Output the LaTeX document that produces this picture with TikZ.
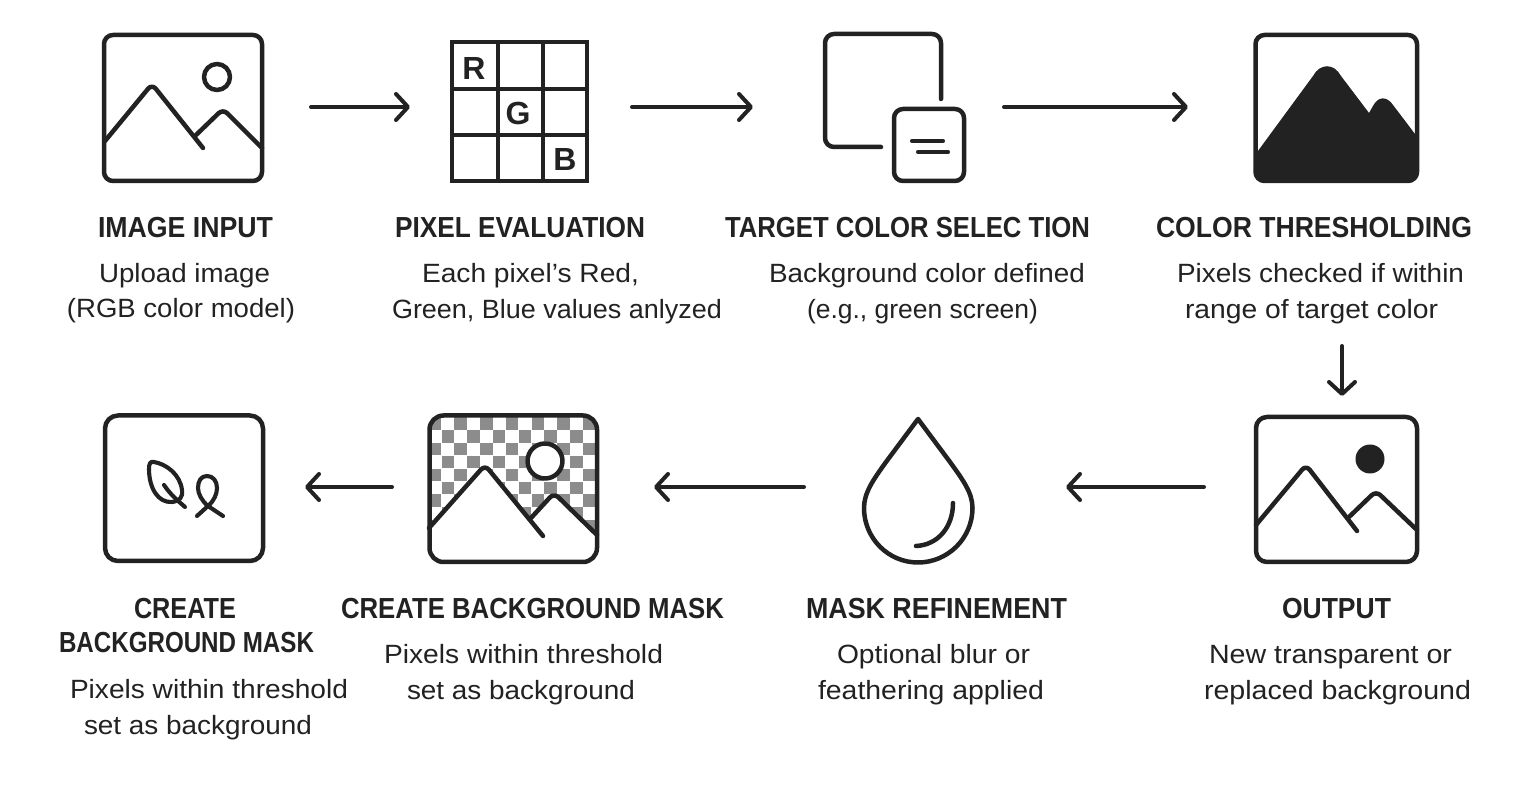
\documentclass[tikz,border=0pt]{standalone}
\usepackage{fontspec}
\usepackage{graphicx}
\usetikzlibrary{arrows.meta,calc}
\setmainfont{Liberation Sans}
\definecolor{ink}{HTML}{222222}
\definecolor{chk}{HTML}{8C8C8C}
\tikzset{
  x=0.5pt,y=-0.5pt,
  line/.style={draw=ink,line width=2.25pt,line cap=round,line join=round},
  thin line/.style={line,line width=2.05pt},
  frame/.style={line,rounded corners=#1},
  frame/.default=5pt,
  iconbox/.style={inner sep=0pt,outer sep=0pt},
  flow/.style={draw=ink,line width=2pt,line cap=round,-{Straight Barb[length=6pt,width=13pt,line width=2pt,round]}},
  headtxt/.style={anchor=base west,inner sep=0pt,outer sep=0pt,text=ink,font=\bfseries\fontsize{14.5pt}{17pt}\selectfont},
  desctxt/.style={anchor=base west,inner sep=0pt,outer sep=0pt,text=ink,font=\fontsize{13.2pt}{16pt}\selectfont},
  rgbtxt/.style={anchor=center,inner sep=0pt,text=ink,font=\bfseries\fontsize{16pt}{18pt}\selectfont},
}
\newcommand\lbl[6]{%
  \pgfmathsetmacro\wdpt{(#4-#3)*0.5}%
  \node[#2] (#1) at (#3,#5) {\resizebox{\wdpt pt}{\height}{#6}};}
\newcommand\boxnode[5]{% name x0 y0 x1 y1
  \pgfmathsetmacro\bw{(#4-#2)*0.5}%
  \pgfmathsetmacro\bh{(#5-#3)*0.5}%
  \node[iconbox,minimum width=\bw pt,minimum height=\bh pt] (#1) at ({(#2+#4)/2},{(#3+#5)/2}) {};}
\begin{document}
\begin{tikzpicture}
\useasboundingbox[fill=white] (0,0) rectangle (1536,785);

% --- anchors of the icons
\boxnode{input}{104}{35}{262}{181}
\boxnode{pixel}{452}{42}{587}{181}
\boxnode{target}{825}{34}{964}{181}
\boxnode{thresh}{1255.5}{35}{1417}{181}
\boxnode{output}{1256}{417}{1417}{562}
\boxnode{drop}{864}{419}{972.5}{562.5}
\boxnode{checker}{429.5}{415.5}{597}{562}
\boxnode{leaf}{105}{415.5}{263}{561}

% --- image input
\draw[frame=4.5pt] (104,35) rectangle (262,181);
\draw[line] (217,77) circle (13);
\draw[line,rounded corners=3pt] (105,141) -- (152,84) -- (203,148);
\draw[line,rounded corners=3pt] (195,136) -- (223,109) -- (262,148);

% --- pixel grid
\draw[line,line cap=butt,line join=miter] (452,42) rectangle (587,181);
\draw[line,line cap=butt] (498,42) -- (498,181) (543,42) -- (543,181)
  (452,89) -- (587,89) (452,135) -- (587,135);
\node[rgbtxt] (r) at (474,68) {R};
\node[rgbtxt] (g) at (518,113) {G};
\node[rgbtxt] (b) at (565,159) {B};

% --- target colour
\draw[frame=4.5pt] (941,99) -- (941,34) -- (825,34) -- (825,147) -- (881,147);
\draw[frame=4.5pt] (894,109) rectangle (964,181);
\draw[thin line] (912,141) -- (943,141) (918,152) -- (948,152);

% --- thresholding
\draw[frame=4.5pt] (1255.5,35) rectangle (1417,181);
\begin{scope}
\clip[rounded corners=4.5pt] (1255.5,35) rectangle (1417,181);
\fill[ink] (1255,155) -- (1313,76)
  .. controls (1320,63) and (1334,63) .. (1341,76)
  -- (1369,113) -- (1373,106)
  .. controls (1378,96) and (1387,96) .. (1393,105)
  -- (1418,138) -- (1418,182) -- (1255,182) -- cycle;
\end{scope}

% --- output
\draw[frame=5.5pt] (1256,417) rectangle (1417,562);
\fill[ink] (1370,459) circle (14.5);
\draw[line,rounded corners=3pt] (1256,525) -- (1306,465) -- (1357,531);
\draw[line,rounded corners=3pt] (1349,517) -- (1376,491) -- (1417,530);

% --- drop
\draw[line] (918,419) -- (886,462)
  .. controls (873,480) and (864,493) .. (864,508)
  .. controls (864,538) and (888,562.5) .. (918,562.5)
  .. controls (948,562.5) and (972.5,538) .. (972.5,508)
  .. controls (972.5,493) and (963,480) .. (950,462) -- cycle;
\draw[line] (953,503) .. controls (953,527) and (938,545) .. (916,546);

% --- checker image
\begin{scope}
\clip[rounded corners=7pt] (429.5,415.5) rectangle (597,562);
\foreach \r in {0,...,11}{
  \foreach \c in {0,...,12}{
    \pgfmathparse{int(mod(\r+\c,2))}
    \ifnum\pgfmathresult=0
      \fill[chk] ({428.7+12.85*\c},{417.3+12.85*\r}) rectangle ++(12.5,12.5);
    \fi
  }
}
\fill[white] (429,528) -- (485,465) -- (531,522) -- (554,493) -- (598,535) -- (598,563) -- (429,563) -- cycle;
\end{scope}
\fill[white] (545,461) circle (19.5);
\draw[line] (545,461) circle (17.5);
\draw[line,rounded corners=3pt] (429,528) -- (485,465) -- (543,536);
\draw[line,rounded corners=3pt] (531,518) -- (554,493) -- (597,535);
\draw[frame=7pt] (429.5,415.5) rectangle (597,562);

% --- leaf
\draw[frame=6.5pt] (105,415.5) rectangle (263,561);
\draw[thin line] (154,462)
  .. controls (166,464) and (180,474) .. (182,490)
  .. controls (183,497) and (180,501) .. (172,502)
  .. controls (158,503) and (149,488) .. (149,469)
  .. controls (149,464) and (150,461) .. (154,462) -- cycle;
\draw[thin line] (164,485) .. controls (170,494) and (177,500) .. (185,507);
\draw[thin line] (197,516) -- (208,506)
  .. controls (214,501) and (217,494) .. (217,488)
  .. controls (217,481) and (213,476) .. (207,476)
  .. controls (201,476) and (198,481) .. (198,488)
  .. controls (198,494) and (202,501) .. (208,506) -- (223,516);

% --- connectors
\draw[flow] ($(input.east)+(49,-1)$) -- ($(pixel.west)+(-42,-4.5)$);
\draw[flow] ($(pixel.east)+(45,-4.5)$) -- ($(target.west)+(-72,-0.5)$);
\draw[flow] ($(target.east)+(40,-0.5)$) -- ($(thresh.west)+(-67.5,-1)$);
\draw[flow] ($(thresh.south)+(5.75,165)$) -- ($(output.north)+(5.5,-21)$);
\draw[flow] ($(output.west)+(-52,-2.5)$) -- ($(drop.east)+(93.5,-3.75)$);
\draw[flow] ($(drop.west)+(-60,-3.75)$) -- ($(checker.east)+(57,-1.75)$);
\draw[flow] ($(checker.west)+(-37.5,-1.75)$) -- ($(leaf.east)+(42,-1.25)$);

% --- texts, row 1
\lbl{h1}{headtxt}{98}{273}{238}{IMAGE INPUT}
\lbl{d1a}{desctxt}{99}{270}{283}{Upload image}
\lbl{d1b}{desctxt}{67}{295}{318}{(RGB color model)}
\lbl{h2}{headtxt}{395}{645}{238}{PIXEL EVALUATION}
\lbl{d2a}{desctxt}{422}{639}{283}{Each pixel's Red,}
\lbl{d2b}{desctxt}{392}{722}{319}{Green, Blue values anlyzed}
\lbl{h3}{headtxt}{725}{1090}{238}{TARGET COLOR SELEC TION}
\lbl{d3a}{desctxt}{769}{1085}{283}{Background color defined}
\lbl{d3b}{desctxt}{807}{1038}{319}{(e.g., green screen)}
\lbl{h4}{headtxt}{1156}{1472}{238}{COLOR THRESHOLDING}
\lbl{d4a}{desctxt}{1177}{1464}{283}{Pixels checked if within}
\lbl{d4b}{desctxt}{1185}{1438}{319}{range of target color}
% --- texts, row 2
\lbl{h5a}{headtxt}{134}{236}{618}{CREATE}
\lbl{h5b}{headtxt}{59}{314}{652}{BACKGROUND MASK}
\lbl{d5a}{desctxt}{70}{348}{698}{Pixels within threshold}
\lbl{d5b}{desctxt}{84}{312}{734}{set as background}
\lbl{h6}{headtxt}{341}{724}{618}{CREATE BACKGROUND MASK}
\lbl{d6a}{desctxt}{384}{663}{663}{Pixels within threshold}
\lbl{d6b}{desctxt}{407}{635}{699}{set as background}
\lbl{h7}{headtxt}{806}{1067}{618}{MASK REFINEMENT}
\lbl{d7a}{desctxt}{837}{1030}{663}{Optional blur or}
\lbl{d7b}{desctxt}{818}{1044}{699}{feathering applied}
\lbl{h8}{headtxt}{1282}{1391}{618}{OUTPUT}
\lbl{d8a}{desctxt}{1209}{1452}{663}{New transparent or}
\lbl{d8b}{desctxt}{1204}{1471}{699}{replaced background}
\end{tikzpicture}
\end{document}
